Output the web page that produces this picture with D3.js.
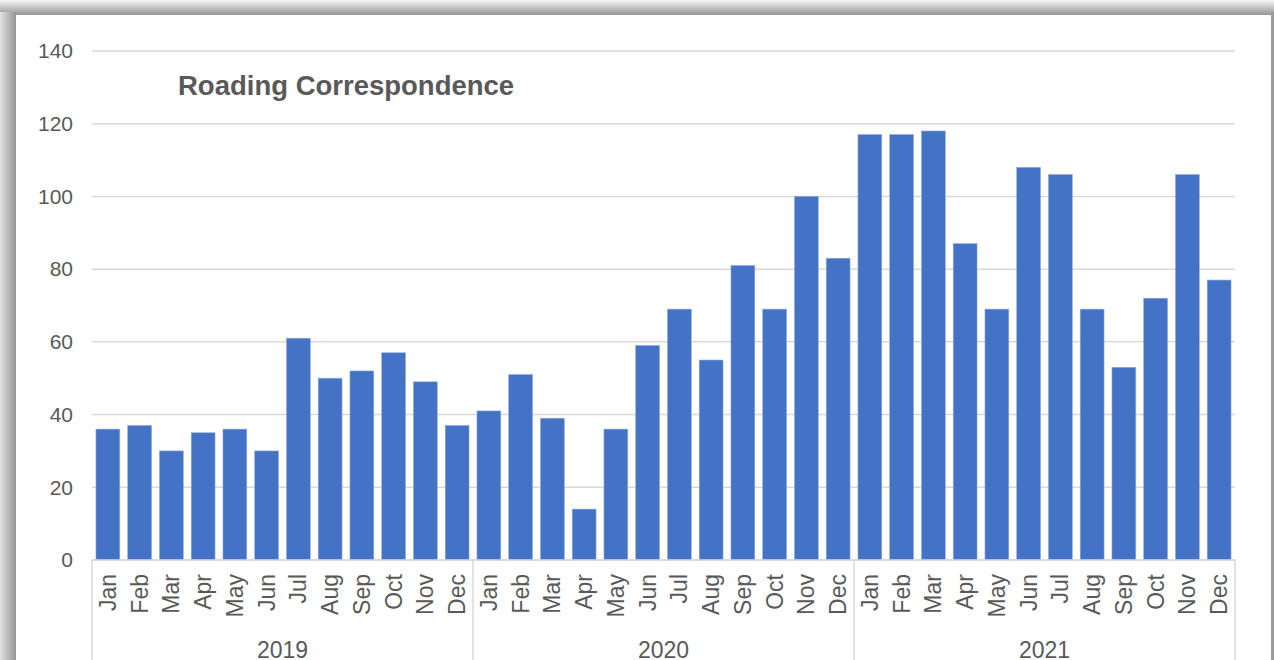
<!DOCTYPE html>
<html>
<head>
<meta charset="utf-8">
<script src="https://cdn.jsdelivr.net/npm/d3@7"></script>
<style>
  body { margin: 0; background: #fff; }
  svg { display: block; font-family: Arial, "Liberation Sans", sans-serif; }
</style>
</head>
<body>
<div id="chart"></div>
<script>
// data
var years = ["2019", "2020", "2021"];
var months = ["Jan", "Feb", "Mar", "Apr", "May", "Jun", "Jul", "Aug", "Sep", "Oct", "Nov", "Dec"];
var values2019 = [36, 37, 30, 35, 36, 30, 61, 50, 52, 57, 49, 37];
var values2020 = [41, 51, 39, 14, 36, 59, 69, 55, 81, 69, 100, 83];
var values2021 = [117, 117, 118, 87, 69, 108, 106, 69, 53, 72, 106, 77];
var yTicks = [0, 20, 40, 60, 80, 100, 120, 140];
var title = "Roading Correspondence";

var W = 1274, H = 660;
var plotLeft = 92, plotRight = 1235, plotTop = 51, plotBottom = 560;

var rows = [];
[values2019, values2020, values2021].forEach(function (vals, yi) {
    vals.forEach(function (v, mi) {
        rows.push({ key: years[yi] + "-" + months[mi], year: years[yi], month: months[mi], value: v });
    });
});

var svg = d3.select("#chart").append("svg")
    .attr("width", W)
    .attr("height", H);

// shadow bands round the chart frame
var defs = svg.append("defs");
var gTop = defs.append("linearGradient").attr("id", "shTop")
    .attr("x1", 0).attr("y1", 0).attr("x2", 0).attr("y2", 1);
gTop.append("stop").attr("offset", "0%").attr("stop-color", "#f6f6f6");
gTop.append("stop").attr("offset", "100%").attr("stop-color", "#959595");
var gLeft = defs.append("linearGradient").attr("id", "shLeft")
    .attr("x1", 0).attr("y1", 0).attr("x2", 1).attr("y2", 0);
gLeft.append("stop").attr("offset", "0%").attr("stop-color", "#e2e2e2");
gLeft.append("stop").attr("offset", "100%").attr("stop-color", "#959595");

svg.append("rect").attr("x", 0).attr("y", 0).attr("width", W).attr("height", 15)
    .attr("fill", "url(#shTop)");
svg.append("rect").attr("x", 0).attr("y", 12).attr("width", 16).attr("height", H - 12)
    .attr("fill", "url(#shLeft)");
svg.append("rect").attr("x", 1271).attr("y", 12).attr("width", 3).attr("height", H - 12)
    .attr("fill", "#9a9a9a");
svg.append("rect")
    .attr("x", 16).attr("y", 15)
    .attr("width", 1255).attr("height", H - 15)
    .attr("fill", "#fff");

var x = d3.scaleBand()
    .domain(rows.map(function (d) { return d.key; }))
    .range([plotLeft, plotRight])
    .paddingInner(0.25)
    .paddingOuter(0.125);

var y = d3.scaleLinear()
    .domain([0, 140])
    .range([plotBottom, plotTop]);

// gridlines
svg.append("g")
    .selectAll("line")
    .data(yTicks)
    .enter().append("line")
    .attr("x1", plotLeft).attr("x2", plotRight)
    .attr("y1", function (d) { return y(d); })
    .attr("y2", function (d) { return y(d); })
    .style("stroke", "#d9d9d9")
    .style("stroke-width", 1.5);

// y labels
svg.append("g")
    .selectAll("text")
    .data(yTicks)
    .enter().append("text")
    .attr("x", 73)
    .attr("y", function (d) { return y(d); })
    .attr("dy", "0.35em")
    .style("text-anchor", "end")
    .style("font-size", "21px")
    .style("fill", "#595959")
    .text(function (d) { return d; });

// bars
svg.append("g")
    .selectAll("rect")
    .data(rows)
    .enter().append("rect")
    .attr("x", function (d) { return x(d.key); })
    .attr("y", function (d) { return y(d.value); })
    .attr("width", x.bandwidth())
    .attr("height", function (d) { return y(0) - y(d.value); })
    .style("fill", "#4472c4")
    .style("stroke", "#8faadc")
    .style("stroke-width", 0.6);

// category axis
var axisColor = "#d9d9d9";
svg.append("line")
    .attr("x1", plotLeft).attr("x2", plotRight)
    .attr("y1", plotBottom).attr("y2", plotBottom)
    .style("stroke", axisColor)
    .style("stroke-width", 1.5);

var step = x.step();
var yearBounds = years.map(function (yr, i) { return plotLeft + i * 12 * step; }).concat([plotRight]);
svg.append("g")
    .selectAll("line")
    .data(yearBounds)
    .enter().append("line")
    .attr("x1", function (d) { return d; })
    .attr("x2", function (d) { return d; })
    .attr("y1", plotBottom).attr("y2", H)
    .style("stroke", axisColor)
    .style("stroke-width", 1.5);

// month labels
svg.append("g")
    .selectAll("text")
    .data(rows)
    .enter().append("text")
    .attr("transform", function (d) {
        return "translate(" + (x(d.key) + x.bandwidth() / 2) + "," + 574 + ") rotate(-90)";
    })
    .attr("dy", "0.35em")
    .style("text-anchor", "end")
    .style("font-size", "23px")
    .style("fill", "#595959")
    .text(function (d) { return d.month; });

// year labels
svg.append("g")
    .selectAll("text")
    .data(years)
    .enter().append("text")
    .attr("x", function (d, i) { return (yearBounds[i] + yearBounds[i + 1]) / 2; })
    .attr("y", 658)
    .style("text-anchor", "middle")
    .style("font-size", "23px")
    .style("fill", "#595959")
    .text(function (d) { return d; });

// title
svg.append("text")
    .attr("x", 178)
    .attr("y", 95)
    .style("font-size", "27.5px")
    .style("font-weight", "bold")
    .style("fill", "#595959")
    .text(title);
</script>
</body>
</html>
